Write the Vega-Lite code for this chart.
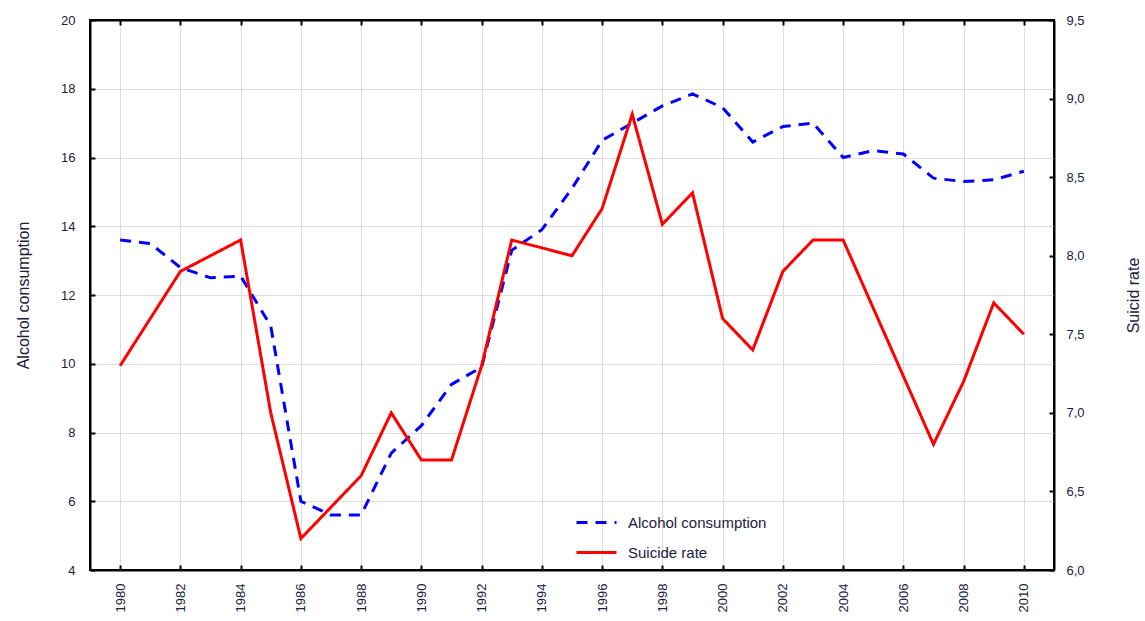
{
  "$schema": "https://vega.github.io/schema/vega-lite/v6.json",
  "width": 964,
  "height": 550,
  "autosize": "none",
  "padding": {"left": 90, "top": 20, "right": 91, "bottom": 51},
  "background": "white",
  "config": {
    "font": "Liberation Sans",
    "view": {"stroke": "black", "strokeWidth": 2},
    "axis": {
      "domainColor": "black", "domainWidth": 2,
      "tickColor": "black", "tickWidth": 2, "tickSize": -5,
      "labelFont": "Liberation Sans", "labelFontSize": 13, "labelColor": "#1c2040",
      "titleFont": "Liberation Sans", "titleFontSize": 16, "titleFontWeight": "normal", "titleColor": "#1c2040",
      "gridColor": "#dcdcdc", "gridWidth": 1
    }
  },
  "data": {
    "values": [
      {"year": 1980, "series": "Alcohol consumption", "value": 13.6},
      {"year": 1981, "series": "Alcohol consumption", "value": 13.5},
      {"year": 1982, "series": "Alcohol consumption", "value": 12.8},
      {"year": 1983, "series": "Alcohol consumption", "value": 12.5},
      {"year": 1984, "series": "Alcohol consumption", "value": 12.55},
      {"year": 1985, "series": "Alcohol consumption", "value": 11.1},
      {"year": 1986, "series": "Alcohol consumption", "value": 6.0},
      {"year": 1987, "series": "Alcohol consumption", "value": 5.6},
      {"year": 1988, "series": "Alcohol consumption", "value": 5.6},
      {"year": 1989, "series": "Alcohol consumption", "value": 7.4},
      {"year": 1990, "series": "Alcohol consumption", "value": 8.2},
      {"year": 1991, "series": "Alcohol consumption", "value": 9.4},
      {"year": 1992, "series": "Alcohol consumption", "value": 9.9},
      {"year": 1993, "series": "Alcohol consumption", "value": 13.3},
      {"year": 1994, "series": "Alcohol consumption", "value": 13.9},
      {"year": 1995, "series": "Alcohol consumption", "value": 15.1},
      {"year": 1996, "series": "Alcohol consumption", "value": 16.5},
      {"year": 1997, "series": "Alcohol consumption", "value": 17.0},
      {"year": 1998, "series": "Alcohol consumption", "value": 17.5},
      {"year": 1999, "series": "Alcohol consumption", "value": 17.85},
      {"year": 2000, "series": "Alcohol consumption", "value": 17.45},
      {"year": 2001, "series": "Alcohol consumption", "value": 16.45},
      {"year": 2002, "series": "Alcohol consumption", "value": 16.9},
      {"year": 2003, "series": "Alcohol consumption", "value": 17.0},
      {"year": 2004, "series": "Alcohol consumption", "value": 16.0},
      {"year": 2005, "series": "Alcohol consumption", "value": 16.2},
      {"year": 2006, "series": "Alcohol consumption", "value": 16.1},
      {"year": 2007, "series": "Alcohol consumption", "value": 15.4},
      {"year": 2008, "series": "Alcohol consumption", "value": 15.3},
      {"year": 2009, "series": "Alcohol consumption", "value": 15.35},
      {"year": 2010, "series": "Alcohol consumption", "value": 15.6},
      {"year": 1980, "series": "Suicide rate", "value": 7.3},
      {"year": 1982, "series": "Suicide rate", "value": 7.9},
      {"year": 1984, "series": "Suicide rate", "value": 8.1},
      {"year": 1985, "series": "Suicide rate", "value": 7.0},
      {"year": 1986, "series": "Suicide rate", "value": 6.2},
      {"year": 1988, "series": "Suicide rate", "value": 6.6},
      {"year": 1989, "series": "Suicide rate", "value": 7.0},
      {"year": 1990, "series": "Suicide rate", "value": 6.7},
      {"year": 1991, "series": "Suicide rate", "value": 6.7},
      {"year": 1992, "series": "Suicide rate", "value": 7.3},
      {"year": 1993, "series": "Suicide rate", "value": 8.1},
      {"year": 1995, "series": "Suicide rate", "value": 8.0},
      {"year": 1996, "series": "Suicide rate", "value": 8.3},
      {"year": 1997, "series": "Suicide rate", "value": 8.9},
      {"year": 1998, "series": "Suicide rate", "value": 8.2},
      {"year": 1999, "series": "Suicide rate", "value": 8.4},
      {"year": 2000, "series": "Suicide rate", "value": 7.6},
      {"year": 2001, "series": "Suicide rate", "value": 7.4},
      {"year": 2002, "series": "Suicide rate", "value": 7.9},
      {"year": 2003, "series": "Suicide rate", "value": 8.1},
      {"year": 2004, "series": "Suicide rate", "value": 8.1},
      {"year": 2007, "series": "Suicide rate", "value": 6.8},
      {"year": 2008, "series": "Suicide rate", "value": 7.2},
      {"year": 2009, "series": "Suicide rate", "value": 7.7},
      {"year": 2010, "series": "Suicide rate", "value": 7.5}
    ]
  },
  "encoding": {
    "color": {
      "field": "series", "type": "nominal",
      "scale": {"domain": ["Alcohol consumption", "Suicide rate"], "range": ["#0000ff", "#ff0000"]},
      "legend": {
        "title": null, "orient": "none", "legendX": 485, "legendY": 481,
        "symbolType": "stroke", "symbolSize": 1600, "symbolStrokeWidth": 3,
        "labelFontSize": 15, "labelColor": "#1c2040", "labelFont": "Liberation Sans",
        "labelOffset": 10, "rowPadding": -15
      }
    },
    "strokeDash": {
      "field": "series", "type": "nominal",
      "scale": {"domain": ["Alcohol consumption", "Suicide rate"], "range": [[11, 8], [1, 0]]},
      "legend": null
    }
  },
  "layer": [
    {
      "transform": [{"filter": "datum.series === 'Alcohol consumption'"}],
      "mark": {"type": "line", "strokeWidth": 3},
      "encoding": {
        "x": {
          "field": "year", "type": "quantitative",
          "scale": {"domain": [1979, 2011], "nice": false, "zero": false},
          "axis": {
            "orient": "bottom", "title": null, "format": "d",
            "values": [1980, 1982, 1984, 1986, 1988, 1990, 1992, 1994, 1996, 1998, 2000, 2002, 2004, 2006, 2008, 2010],
            "labelAngle": -90, "labelPadding": 18, "grid": true
          }
        },
        "y": {
          "field": "value", "type": "quantitative",
          "scale": {"domain": [4, 20], "nice": false, "zero": false},
          "axis": {
            "orient": "left", "title": "Alcohol consumption",
            "values": [4, 6, 8, 10, 12, 14, 16, 18, 20],
            "labelPadding": 20, "titlePadding": 29, "grid": true
          }
        }
      }
    },
    {
      "transform": [{"filter": "datum.series === 'Suicide rate'"}],
      "mark": {"type": "line", "strokeWidth": 3},
      "encoding": {
        "x": {
          "field": "year", "type": "quantitative",
          "scale": {"domain": [1979, 2011], "nice": false, "zero": false},
          "axis": {
            "orient": "top", "title": null, "labels": false, "grid": false,
            "values": [1980, 1982, 1984, 1986, 1988, 1990, 1992, 1994, 1996, 1998, 2000, 2002, 2004, 2006, 2008, 2010]
          }
        },
        "y": {
          "field": "value", "type": "quantitative",
          "scale": {"domain": [6, 9.5], "nice": false, "zero": false},
          "axis": {
            "orient": "right", "title": "Suicid rate", "titleAngle": 270,
            "values": [6, 6.5, 7, 7.5, 8, 8.5, 9, 9.5],
            "labelExpr": "replace(format(datum.value, '.1f'), '.', ',')",
            "labelPadding": 17, "titlePadding": 57, "grid": false
          }
        }
      }
    }
  ],
  "resolve": {"scale": {"y": "independent"}, "axis": {"x": "independent"}}
}
